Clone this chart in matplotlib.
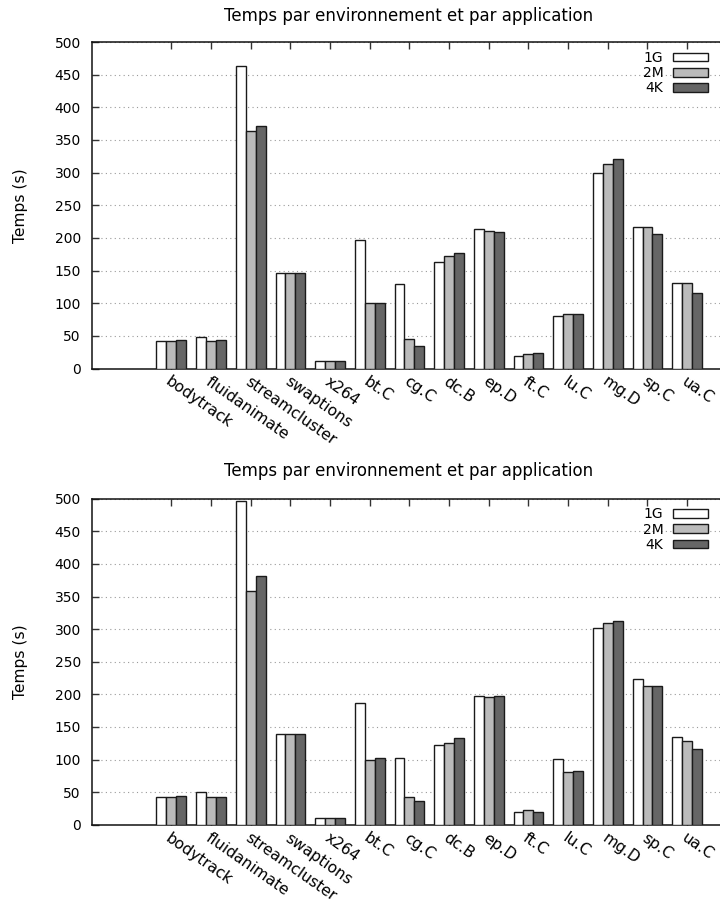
import matplotlib
matplotlib.use('Agg')
import matplotlib.pyplot as plt
import numpy as np

W_PX, H_PX, DPI = 720, 907, 100
TICK_SIZE = 10
XLAB_SIZE = 11.2
TITLE_SIZE = 12

apps = ['bodytrack', 'fluidanimate', 'streamcluster', 'swaptions', 'x264',
        'bt.C', 'cg.C', 'dc.B', 'ep.D', 'ft.C', 'lu.C', 'mg.D', 'sp.C', 'ua.C']
series = ['1G', '2M', '4K']
colors = ['#ffffff', '#bbbbbb', '#666666']
title = 'Temps par environnement et par application'
yticks = list(range(0, 501, 50))

# haut
top_1g = [42, 49, 463, 146, 12, 197, 130, 163, 213, 19, 81, 299, 216, 131]
top_2m = [42, 42, 363, 146, 12, 100, 45, 173, 210, 22, 83, 313, 217, 131]
top_4k = [44, 44, 372, 146, 12, 100, 35, 177, 209, 24, 84, 321, 206, 115]

# bas
bot_1g = [42, 50, 497, 139, 11, 187, 102, 123, 198, 20, 101, 302, 223, 134]
bot_2m = [42, 42, 359, 139, 11, 99, 43, 125, 196, 23, 81, 310, 212, 129]
bot_4k = [44, 42, 382, 139, 11, 103, 37, 133, 197, 20, 82, 312, 212, 116]


def px(x0, y0, x1, y1):
    # rectangle en pixels (origine en haut a gauche) -> fraction de figure
    return [x0 / W_PX, 1 - y1 / H_PX, (x1 - x0) / W_PX, (y1 - y0) / H_PX]


def panel(fig, rect, data, legend_y):
    ax = fig.add_axes(rect)
    x = np.arange(len(apps))
    w = 0.25
    for i, (vals, c, lab) in enumerate(zip(data, colors, series)):
        ax.bar(x + (i - 1) * w, vals, width=w, color=c, edgecolor='#1a1a1a',
               linewidth=1.0, label=lab, zorder=3)
    ax.set_xlim(-2, 15)
    ax.set_ylim(0, 500)
    ax.set_yticks(yticks)
    ax.set_xticks(x)
    ax.set_xticklabels(apps, rotation=-35, ha='left', va='top',
                       rotation_mode='anchor', fontsize=XLAB_SIZE)
    ax.tick_params(axis='x', direction='in', top=True, length=5, width=1,
                   pad=4, color='#333333')
    ax.tick_params(axis='y', direction='in', right=True, length=5, width=1,
                   pad=8, labelsize=TICK_SIZE, color='#333333')
    ax.yaxis.grid(True, linestyle=(0, (1, 3)), linewidth=0.8,
                  color='#9a9a9a', zorder=0)
    ax.set_axisbelow(True)
    for s in ax.spines.values():
        s.set_linewidth(1.1)
        s.set_color('#111111')
    ax.legend(loc='upper right', bbox_to_anchor=(708 / W_PX, 1 - legend_y / H_PX),
              bbox_transform=fig.transFigure, frameon=False, markerfirst=False,
              fontsize=TICK_SIZE, handlelength=2.5, handleheight=0.58,
              labelspacing=0.08, handletextpad=0.7, borderpad=0, borderaxespad=0)
    return ax


fig = plt.figure(figsize=(W_PX / DPI, H_PX / DPI), dpi=DPI)
plt.rcParams['font.family'] = 'DejaVu Sans'

panel(fig, px(92, 42, 766.5, 368.5), [top_1g, top_2m, top_4k], 51)
panel(fig, px(92, 498.7, 766.5, 824.7), [bot_1g, bot_2m, bot_4k], 507.5)

fig.text(408.5 / W_PX, 1 - 20.7 / H_PX, title, ha='center', va='baseline',
         fontsize=TITLE_SIZE)
fig.text(408.5 / W_PX, 1 - 476 / H_PX, title, ha='center', va='baseline',
         fontsize=TITLE_SIZE)
fig.text(20.5 / W_PX, 1 - 206 / H_PX, 'Temps (s)', rotation=90, ha='center',
         va='center', fontsize=XLAB_SIZE)
fig.text(20.5 / W_PX, 1 - 662 / H_PX, 'Temps (s)', rotation=90, ha='center',
         va='center', fontsize=XLAB_SIZE)

fig.savefig('out.png', dpi=DPI)
